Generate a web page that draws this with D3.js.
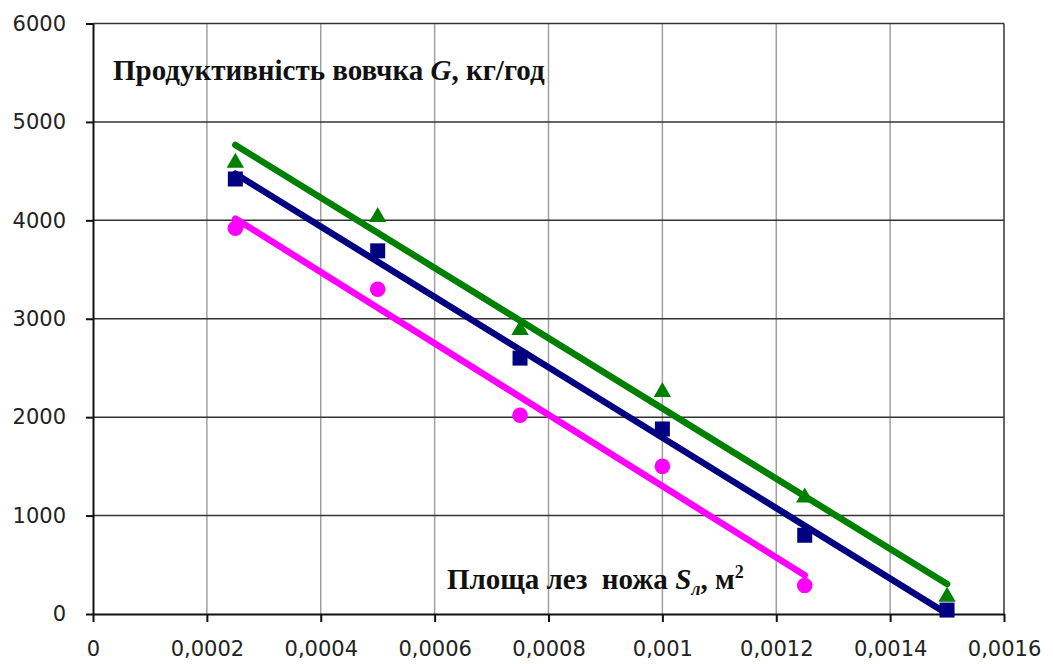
<!DOCTYPE html>
<html>
<head>
<meta charset="utf-8">
<script src="https://cdn.jsdelivr.net/npm/d3@7"></script>
<style>
  html, body { margin: 0; padding: 0; background: #fff; }
  svg { display: block; }
</style>
</head>
<body>
<svg id="chart" width="1053" height="664"></svg>
<script>
// Blade area of the knife, m²
const areas = [0.00025, 0.0005, 0.00075, 0.001, 0.00125, 0.0015];

// Productivity of the mincer G, kg/h, for three series
const seriesGreen   = [4600, 4050, 2900, 2270, 1200, 190];
const seriesNavy    = [4420, 3690, 2600, 1880, 800, 40];
const seriesMagenta = [3920, 3300, 2020, 1500, 290];

const xTickValues = [0, 0.0002, 0.0004, 0.0006, 0.0008, 0.001, 0.0012, 0.0014, 0.0016];
const xTickLabels = ["0", "0,0002", "0,0004", "0,0006", "0,0008", "0,001", "0,0012", "0,0014", "0,0016"];
const yTickValues = [0, 1000, 2000, 3000, 4000, 5000, 6000];
const yTickLabels = ["0", "1000", "2000", "3000", "4000", "5000", "6000"];

const svg = d3.select("#chart");
const plot = { left: 93, right: 1004, top: 23.5, bottom: 614 };

const x = d3.scaleLinear().domain([0, 0.0016]).range([plot.left, plot.right]);
const y = d3.scaleLinear().domain([0, 6000]).range([plot.bottom, plot.top]);

// Vertical grid (grey)
svg.append("g")
  .selectAll("line")
  .data(xTickValues.slice(1, -1))
  .join("line")
  .attr("x1", d => x(d)).attr("x2", d => x(d))
  .attr("y1", plot.top).attr("y2", plot.bottom)
  .attr("stroke", "#a0a0a0").attr("stroke-width", 1.5);

// Horizontal grid (dark)
svg.append("g")
  .selectAll("line")
  .data(yTickValues.slice(1))
  .join("line")
  .attr("x1", plot.left).attr("x2", plot.right)
  .attr("y1", d => y(d)).attr("y2", d => y(d))
  .attr("stroke", "#333").attr("stroke-width", 1.5);

// Right border
svg.append("line")
  .attr("x1", plot.right).attr("x2", plot.right)
  .attr("y1", plot.top).attr("y2", plot.bottom)
  .attr("stroke", "#333").attr("stroke-width", 1.5);

// Axes
const fmtX = d => xTickLabels[xTickValues.indexOf(d)];
const fmtY = d => yTickLabels[yTickValues.indexOf(d)];

const gx = svg.append("g")
  .attr("transform", `translate(0,${plot.bottom})`)
  .call(d3.axisBottom(x).tickValues(xTickValues).tickFormat(fmtX).tickSize(8).tickPadding(19).tickSizeOuter(0));

const gy = svg.append("g")
  .attr("transform", `translate(${plot.left},0)`)
  .call(d3.axisLeft(y).tickValues(yTickValues).tickFormat(fmtY).tickSize(7).tickPadding(20).tickSizeOuter(0));

[gx, gy].forEach(g => {
  g.select(".domain").attr("stroke", "#111").attr("stroke-width", 2);
  g.selectAll(".tick line").attr("stroke", "#111").attr("stroke-width", 2);
  g.selectAll(".tick text")
    .attr("fill", "#222")
    .style("font-family", "'DejaVu Sans', sans-serif")
    .style("font-size", "21px");
});

// Markers
const sym = (type, size) => d3.symbol().type(type).size(size)();

const markers = svg.append("g");
markers.selectAll("path.tri")
  .data(areas.map((a, i) => [a, seriesGreen[i]]))
  .join("path")
  .attr("class", "tri")
  .attr("transform", d => `translate(${x(d[0])},${y(d[1]) + 1.5})`)
  .attr("d", sym(d3.symbolTriangle, 130))
  .attr("fill", "#008000");

markers.selectAll("path.sq")
  .data(areas.map((a, i) => [a, seriesNavy[i]]))
  .join("path")
  .attr("class", "sq")
  .attr("transform", d => `translate(${x(d[0])},${y(d[1])})`)
  .attr("d", sym(d3.symbolSquare, 225))
  .attr("fill", "#000080");

markers.selectAll("circle")
  .data(seriesMagenta.map((v, i) => [areas[i], v]))
  .join("circle")
  .attr("cx", d => x(d[0])).attr("cy", d => y(d[1]))
  .attr("r", 7.8)
  .attr("fill", "#ff00ff");

// Linear trend lines (least squares)
function trend(xs, ys) {
  const n = xs.length;
  const mx = d3.mean(xs), my = d3.mean(ys);
  let sxy = 0, sxx = 0;
  for (let i = 0; i < n; i++) {
    sxy += (xs[i] - mx) * (ys[i] - my);
    sxx += (xs[i] - mx) ** 2;
  }
  const b = sxy / sxx, a = my - b * mx;
  return [[xs[0], a + b * xs[0]], [xs[n - 1], a + b * xs[n - 1]]];
}

const line = d3.line().x(d => x(d[0])).y(d => y(d[1]));
const trends = [
  { pts: trend(areas, seriesGreen), color: "#008000" },
  { pts: trend(areas, seriesNavy), color: "#000080" },
  { pts: trend(areas.slice(0, seriesMagenta.length), seriesMagenta), color: "#ff00ff" }
];
svg.append("g")
  .selectAll("path")
  .data(trends)
  .join("path")
  .attr("d", d => line(d.pts))
  .attr("fill", "none")
  .attr("stroke", d => d.color)
  .attr("stroke-width", 6.5)
  .attr("stroke-linecap", "round");

// Axis titles
const title = svg.append("text")
  .attr("x", 113).attr("y", 80)
  .style("font-family", "'Liberation Serif', 'Times New Roman', serif")
  .style("font-weight", "bold")
  .style("font-size", "29px")
  .attr("fill", "#111");
title.append("tspan").text("Продуктивність вовчка ");
title.append("tspan").style("font-style", "italic").text("G");
title.append("tspan").text(", кг/год");

const xTitle = svg.append("text")
  .attr("x", 447).attr("y", 589)
  .style("font-family", "'Liberation Serif', 'Times New Roman', serif")
  .style("font-weight", "bold")
  .style("font-size", "29px")
  .style("white-space", "pre")
  .attr("fill", "#111");
xTitle.append("tspan").text("Площа лез  ножа ");
xTitle.append("tspan").style("font-style", "italic").text("S");
xTitle.append("tspan").style("font-style", "italic").style("font-size", "18px").attr("dy", 6).text("л");
xTitle.append("tspan").attr("dy", -6).text(", м");
xTitle.append("tspan").style("font-size", "18px").attr("dy", -11).text("2");
</script>
</body>
</html>
